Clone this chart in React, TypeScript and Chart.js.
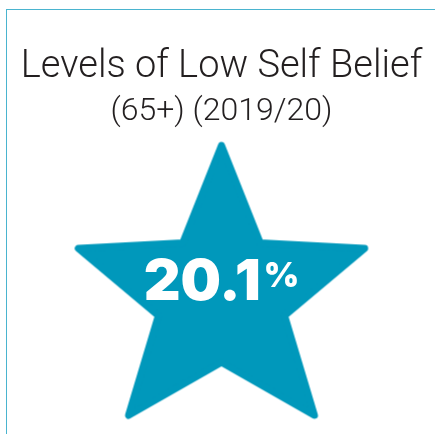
import React, { useEffect, useRef } from "react";
import { Chart, registerables } from "chart.js";

Chart.register(...registerables);

const titleText = "Levels of Low Self Belief";
const subtitleText = "(65+) (2019/20)";
const categories = ["Low self belief (65+)"];
const values = [20.1];
const valueUnit = "%";
const yRange = [0, 40];

const STAR_COLOR = "#0098bb";
const BORDER_COLOR = "#4ab4cf";
const TEXT_COLOR = "#231f20";

function makeStar(): HTMLCanvasElement {
  const R = 151;
  const r = 66;
  const outerAngles = [0, 71.5, 142, 218, 288.5];
  const innerAngles = [36, 107, 180, 253, 324];
  const size = 340;
  const c = document.createElement("canvas");
  c.width = size;
  c.height = size;
  const ctx = c.getContext("2d")!;
  const cx = size / 2;
  const cy = size / 2;
  ctx.beginPath();
  for (let i = 0; i < 5; i++) {
    const ao = (outerAngles[i] * Math.PI) / 180;
    const ai = (innerAngles[i] * Math.PI) / 180;
    const ox = cx + R * Math.sin(ao);
    const oy = cy - R * Math.cos(ao);
    const ix = cx + r * Math.sin(ai);
    const iy = cy - r * Math.cos(ai);
    if (i === 0) ctx.moveTo(ox, oy);
    else ctx.lineTo(ox, oy);
    ctx.lineTo(ix, iy);
  }
  ctx.closePath();
  ctx.fillStyle = STAR_COLOR;
  ctx.fill();
  ctx.lineJoin = "round";
  ctx.lineWidth = 7;
  ctx.strokeStyle = STAR_COLOR;
  ctx.stroke();
  return c;
}

const valueLabelPlugin = {
  id: "valueLabel",
  afterDatasetsDraw(chart: any) {
    const meta = chart.getDatasetMeta(0);
    const ctx = chart.ctx;
    meta.data.forEach((pt: any, i: number) => {
      const main = values[i].toFixed(1);
      ctx.save();
      ctx.fillStyle = "#ffffff";
      ctx.textBaseline = "alphabetic";
      ctx.textAlign = "left";
      const mainFont = "900 57px Inter, 'Liberation Sans', sans-serif";
      const unitFont = "900 34px Inter, 'Liberation Sans', sans-serif";
      ctx.font = mainFont;
      const wMain = ctx.measureText(main).width;
      ctx.font = unitFont;
      const wUnit = ctx.measureText(valueUnit).width;
      const gap = 3;
      const total = wMain + gap + wUnit;
      const x0 = pt.x - total / 2;
      ctx.font = mainFont;
      ctx.fillText(main, x0, pt.y + 4);
      ctx.font = unitFont;
      ctx.fillText(valueUnit, x0 + wMain + gap, pt.y - 9);
      ctx.restore();
    });
  },
};

export default function App() {
  const ref = useRef<HTMLCanvasElement | null>(null);

  useEffect(() => {
    document.body.style.margin = "0";
    const star = makeStar();
    const chart = new Chart(ref.current!, {
      type: "line",
      data: {
        labels: categories,
        datasets: [
          {
            label: titleText,
            data: values,
            showLine: false,
            clip: false as any,
            pointStyle: star as any,
            pointRadius: 150,
            pointHoverRadius: 150,
          },
        ],
      },
      options: {
        animation: false,
        responsive: false,
        events: [],
        layout: { autoPadding: false, padding: { left: 8, right: 0, top: 0, bottom: 0 } },
        scales: {
          x: { display: false, offset: true },
          y: { display: false, min: yRange[0], max: yRange[1] },
        },
        plugins: {
          legend: { display: false },
          tooltip: { enabled: false },
          title: {
            display: true,
            text: titleText,
            color: TEXT_COLOR,
            font: { family: "Roboto, 'Liberation Sans', sans-serif", size: 38, weight: "300" as any, lineHeight: 1.2 },
            padding: { top: 45, bottom: 2 },
          },
          subtitle: {
            display: true,
            text: subtitleText,
            color: TEXT_COLOR,
            font: { family: "Roboto, 'Liberation Sans', sans-serif", size: 32, weight: "300" as any, lineHeight: 1.2 },
            padding: { top: 0, bottom: 29 },
          },
        },
      },
      plugins: [valueLabelPlugin],
    });
    return () => chart.destroy();
  }, []);

  return (
    <div style={{ position: "relative", width: 435, height: 434, background: "#fff", overflow: "hidden" }}>
      <div
        style={{
          position: "absolute",
          left: 6,
          top: 9,
          width: 500,
          height: 500,
          borderLeft: `1.5px solid ${BORDER_COLOR}`,
          borderTop: `1.5px solid ${BORDER_COLOR}`,
          boxSizing: "border-box",
        }}
      />
      <canvas ref={ref} width={435} height={434} style={{ position: "absolute", left: 0, top: 0, display: "block" }} />
    </div>
  );
}
